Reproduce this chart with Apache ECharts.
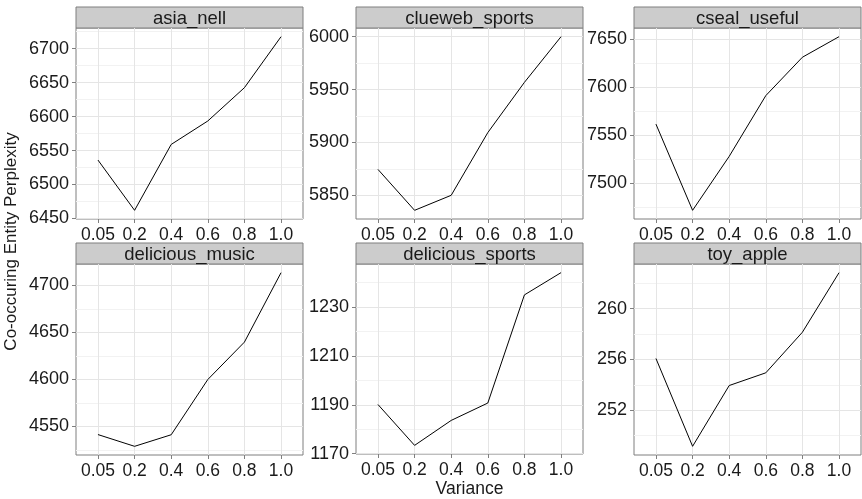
<!DOCTYPE html>
<html>
<head>
<meta charset="utf-8">
<script src="https://cdn.jsdelivr.net/npm/echarts@6/dist/echarts.min.js"></script>
<style>
  html, body { margin: 0; padding: 0; background: #fff; }
  #chart { width: 862px; height: 499px; }
</style>
</head>
<body>
<div id="chart"></div>
<script>
// x categories (equally spaced, discrete)
const variance = ['0.05', '0.2', '0.4', '0.6', '0.8', '1.0'];
const panelNames = ['asia_nell', 'clueweb_sports', 'cseal_useful', 'delicious_music', 'delicious_sports', 'toy_apple'];

// perplexity values per panel
const asiaNell = [6536, 6462, 6559, 6593.5, 6642.5, 6717.6];
const cluewebSports = [5874.5, 5835.8, 5850, 5909.3, 5956.8, 6000];
const csealUseful = [7561.3, 7471.5, 7527.7, 7591, 7631, 7652.4];
const deliciousMusic = [4541.2, 4528.7, 4541, 4599.8, 4639.6, 4713.5];
const deliciousSports = [1190.1, 1173.4, 1183.6, 1190.7, 1234.9, 1244];
const toyApple = [256.08, 249.16, 253.95, 254.95, 258.15, 262.84];

// y tick labels per panel
const ticksAsia = [6450, 6500, 6550, 6600, 6650, 6700];
const ticksClue = [5850, 5900, 5950, 6000];
const ticksCseal = [7500, 7550, 7600, 7650];
const ticksMusic = [4550, 4600, 4650, 4700];
const ticksSports = [1170, 1190, 1210, 1230];
const ticksToy = [252, 256, 260];

const seriesData = [asiaNell, cluewebSports, csealUseful, deliciousMusic, deliciousSports, toyApple];
const yTicks = [ticksAsia, ticksClue, ticksCseal, ticksMusic, ticksSports, ticksToy];

// layout
const colLeft = [76, 356, 634];
const rowTop = [28, 264];
const plotW = 227, plotH = 191, stripH = 21;
const font = 'Liberation Sans, Arial, Helvetica, sans-serif';
const txt = '#1a1a1a';
const borderCol = '#7f7f7f';

const chart = echarts.init(document.getElementById('chart'), null, { renderer: 'canvas' });

const grids = [], xAxes = [], yAxes = [], minorAxes = [], series = [], graphics = [];

panelNames.forEach((name, i) => {
  const left = colLeft[i % 3];
  const top = rowTop[Math.floor(i / 3)];
  const vals = seriesData[i];
  const ticks = yTicks[i];

  // ggplot style 5% expansion of data range
  const lo = Math.min(...vals), hi = Math.max(...vals);
  const pad = (hi - lo) * 0.05;
  const yMin = lo - pad, yMax = hi + pad;

  // minor breaks half way between majors
  const step = ticks[1] - ticks[0];
  const minors = [];
  for (let v = ticks[0] - step / 2; v <= ticks[ticks.length - 1] + step; v += step) {
    if (v >= yMin && v <= yMax) minors.push(v);
  }

  grids.push({
    left: left, top: top, width: plotW, height: plotH,
    show: true, borderColor: borderCol, borderWidth: 1, backgroundColor: 'transparent'
  });

  xAxes.push({
    type: 'value', gridIndex: i, min: 0.4, max: 6.6,
    name: i === 4 ? 'Variance' : '',
    nameLocation: 'middle', nameGap: 26,
    nameTextStyle: { fontFamily: font, fontSize: 17.5, color: txt, verticalAlign: 'top' },
    axisLine: { show: false },
    axisTick: { show: true, length: 4, lineStyle: { color: borderCol }, customValues: [1, 2, 3, 4, 5, 6] },
    axisLabel: {
      customValues: [1, 2, 3, 4, 5, 6], margin: 7,
      fontFamily: font, fontSize: 17.5, color: txt,
      formatter: v => variance[Math.round(v) - 1]
    },
    splitLine: { show: true, lineStyle: { color: '#e5e5e5', width: 1 } }
  });

  yAxes.push({
    type: 'value', gridIndex: i, min: yMin, max: yMax,
    axisLine: { show: false },
    axisTick: { show: true, length: 4, lineStyle: { color: borderCol }, customValues: ticks },
    axisLabel: {
      customValues: ticks, margin: 7, fontFamily: font, fontSize: 18, color: txt,
      formatter: v => String(v)
    },
    splitLine: { show: true, lineStyle: { color: '#e5e5e5', width: 1 } }
  });

  minorAxes.push({
    type: 'value', gridIndex: i, min: yMin, max: yMax, position: 'left',
    axisLine: { show: false },
    axisTick: { show: false, customValues: minors },
    axisLabel: { show: false },
    splitLine: { show: true, lineStyle: { color: '#f2f2f2', width: 1 } }
  });

  series.push({
    type: 'line', name: name, xAxisIndex: i, yAxisIndex: i,
    data: vals.map((v, k) => [k + 1, v]),
    showSymbol: false, symbol: 'none', silent: true,
    lineStyle: { color: '#000', width: 1 }
  });

  // facet strip
  graphics.push({
    type: 'group',
    children: [
      {
        type: 'rect',
        shape: { x: left, y: top - stripH, width: plotW, height: stripH },
        style: { fill: '#cccccc', stroke: borderCol, lineWidth: 1 }
      },
      {
        type: 'text',
        x: left + plotW / 2, y: top - stripH / 2 + 1,
        style: { text: name, fontFamily: font, fontSize: 18.5, fill: txt, align: 'center', verticalAlign: 'middle' }
      }
    ]
  });
});

// shared y title
graphics.push({
  type: 'text',
  x: 11, y: (rowTop[0] + rowTop[1] + plotH) / 2,
  rotation: Math.PI / 2,
  style: {
    text: 'Co-occuring Entity Perplexity', fontFamily: font, fontSize: 17, fill: txt,
    align: 'center', verticalAlign: 'middle'
  }
});

// minor axes go after the majors so indices 0..5 stay aligned with series
const option = {
  animation: false,
  backgroundColor: '#ffffff',
  grid: grids,
  xAxis: xAxes,
  yAxis: yAxes.concat(minorAxes),
  series: series,
  graphic: graphics
};

chart.setOption(option);
</script>
</body>
</html>
